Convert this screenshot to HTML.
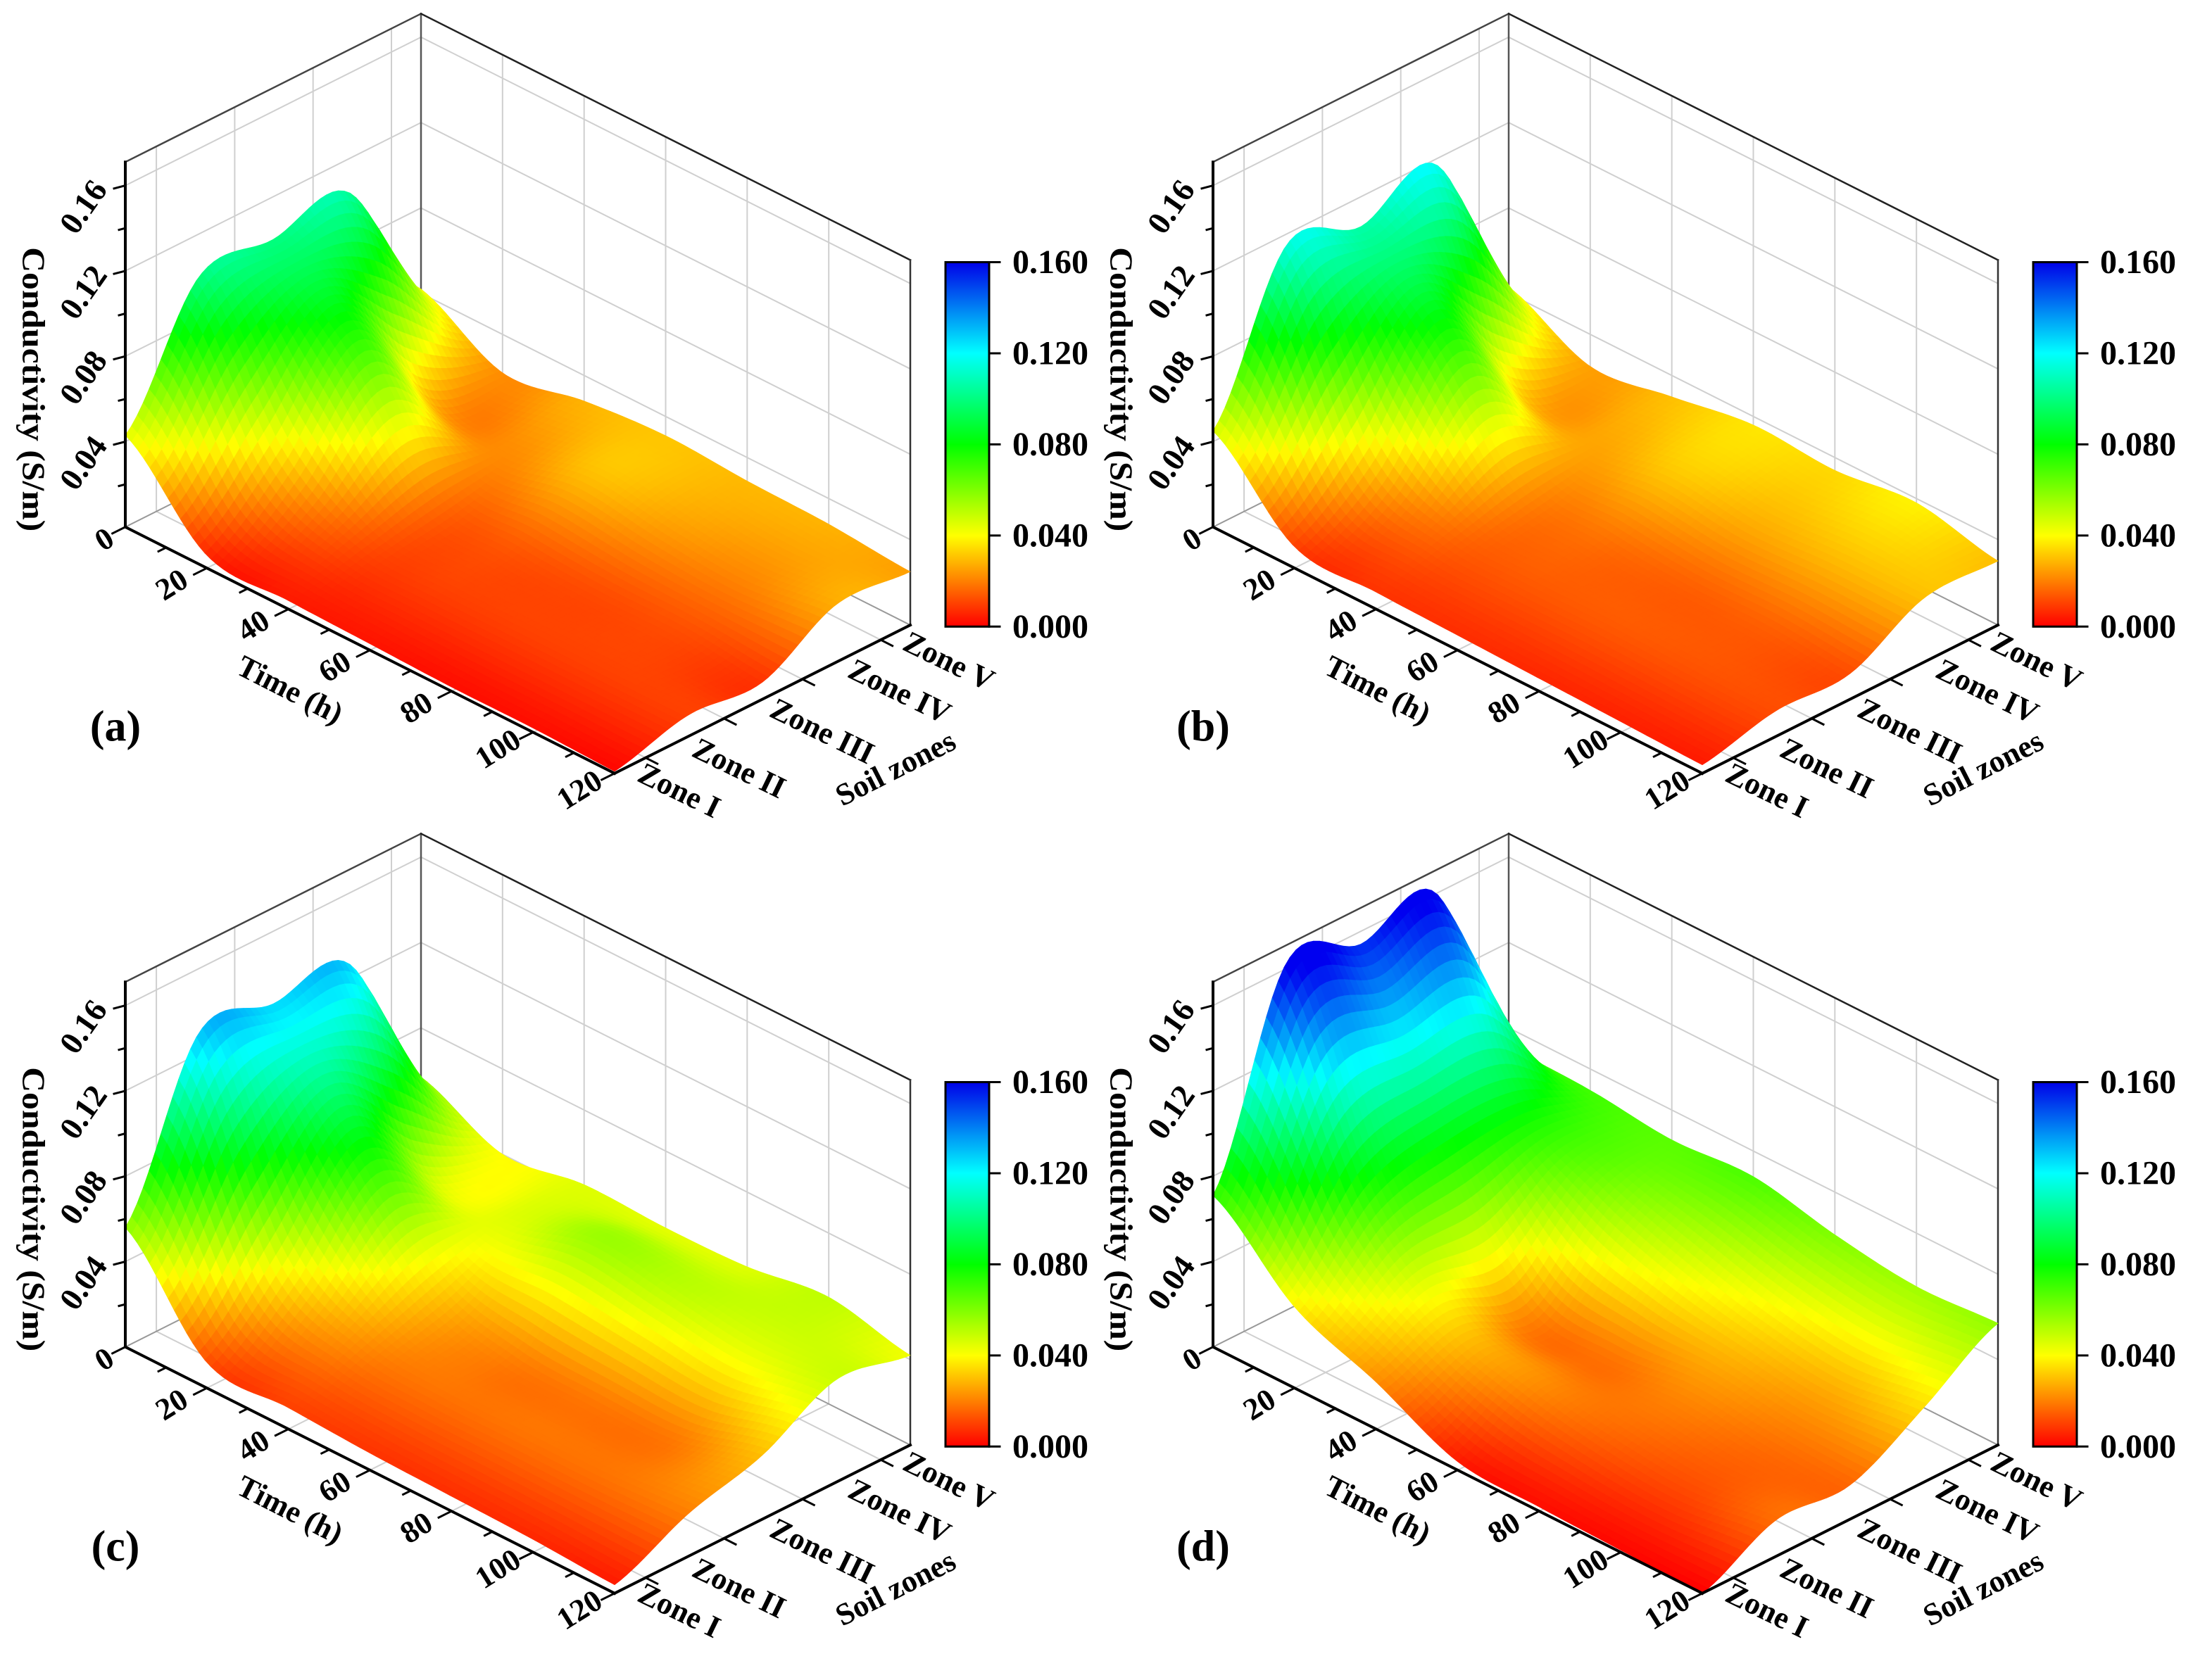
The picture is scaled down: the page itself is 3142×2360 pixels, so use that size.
<!DOCTYPE html>
<html>
<head>
<meta charset="utf-8">
<style>
html,body{margin:0;padding:0;background:#fff;}
svg{display:block;}
text{font-family:"Liberation Serif","DejaVu Serif",serif;font-weight:bold;fill:#000;}
</style>
</head>
<body>
<svg id="fig" xmlns="http://www.w3.org/2000/svg" width="3142" height="2360" viewBox="0 0 3142 2360">
<defs>
<linearGradient id="cmap" x1="0" y1="1" x2="0" y2="0">
<stop offset="0" stop-color="#ff0000"/>
<stop offset="0.25" stop-color="#ffff00"/>
<stop offset="0.5" stop-color="#00ff00"/>
<stop offset="0.75" stop-color="#00ffff"/>
<stop offset="1" stop-color="#0000e8"/>
</linearGradient>
</defs>
<rect x="0" y="0" width="3142" height="2360" fill="#fff"/>
</svg>
<script>
// ---- data (rows = Zone I..V, columns = time 0..120 h) ----
const times = [0, 20, 40, 60, 80, 100, 120];
const zoneNames = ['Zone I', 'Zone II', 'Zone III', 'Zone IV', 'Zone V'];
const timeTicks = ['0', '20', '40', '60', '80', '100', '120'];
const zTicks = [0.04, 0.08, 0.12, 0.16];
const zTickLabels = ['0.04', '0.08', '0.12', '0.16'];
const cbTicks = [0, 0.04, 0.08, 0.12, 0.16];
const cbLabels = ['0.000', '0.040', '0.080', '0.120', '0.160'];
const panelLabels = ['(a)', '(b)', '(c)', '(d)'];
const condA = [
  [0.043, 0.006, 0.004, 0.003, 0.002, 0.002, 0.001],
  [0.100, 0.035, 0.012, 0.010, 0.010, 0.010, 0.010],
  [0.100, 0.075, 0.020, 0.014, 0.012, 0.012, 0.008],
  [0.105, 0.030, 0.022, 0.030, 0.025, 0.022, 0.027],
  [0.042, 0.022, 0.028, 0.031, 0.029, 0.028, 0.025]
];
const condB = [
  [0.045, 0.010, 0.008, 0.007, 0.006, 0.005, 0.004],
  [0.115, 0.035, 0.016, 0.014, 0.014, 0.013, 0.012],
  [0.106, 0.080, 0.025, 0.018, 0.015, 0.015, 0.012],
  [0.118, 0.035, 0.026, 0.032, 0.028, 0.030, 0.030],
  [0.043, 0.025, 0.030, 0.036, 0.034, 0.038, 0.030]
];
const condC = [
  [0.056, 0.012, 0.010, 0.008, 0.007, 0.006, 0.004],
  [0.130, 0.045, 0.022, 0.018, 0.018, 0.018, 0.020],
  [0.126, 0.085, 0.035, 0.022, 0.020, 0.020, 0.030],
  [0.128, 0.050, 0.045, 0.055, 0.050, 0.045, 0.048],
  [0.057, 0.040, 0.045, 0.044, 0.045, 0.050, 0.042]
];
const condD = [
  [0.071, 0.038, 0.022, 0.004, 0.002, 0.001, 0.000],
  [0.163, 0.075, 0.035, 0.022, 0.015, 0.012, 0.017],
  [0.154, 0.085, 0.025, 0.018, 0.022, 0.018, 0.016],
  [0.161, 0.085, 0.060, 0.045, 0.035, 0.030, 0.035],
  [0.071, 0.070, 0.066, 0.068, 0.060, 0.055, 0.057]
];
const allData = [condA, condB, condC, condD];

// ---- geometry ----
const NS = 'http://www.w3.org/2000/svg';
const svg = document.getElementById('fig');
const K = 0.7526;
const ZMAX = 0.171;
const TMAX = 120;
const soilGrid = [0.105, 0.37, 0.635, 0.9];
const offsets = [{dx:0,dy:0},{dx:1545,dy:0},{dx:0,dy:1165},{dx:1545,dy:1165}];

function proj(tf, sf, z){ return [178 + 695*tf + 420*sf, 995 + 465*tf - 280*sf - 4030*z]; }
function real(off, p){ return [p[0] + off.dx, p[1]*K + off.dy]; }
function mk(tag){ return document.createElementNS(NS, tag); }
function line(g, off, a, b, col, w){
  const A = real(off, a), B = real(off, b);
  const l = mk('line');
  l.setAttribute('x1', A[0].toFixed(1)); l.setAttribute('y1', A[1].toFixed(1));
  l.setAttribute('x2', B[0].toFixed(1)); l.setAttribute('y2', B[1].toFixed(1));
  l.setAttribute('stroke', col); l.setAttribute('stroke-width', w);
  l.setAttribute('stroke-linecap', 'square');
  g.appendChild(l);
  return l;
}
function txt(g, off, zx, zy, str, size, ang, anchor){
  const P = real(off, [zx, zy]);
  const t = mk('text');
  t.setAttribute('x', P[0].toFixed(1)); t.setAttribute('y', P[1].toFixed(1));
  t.setAttribute('font-size', size);
  t.setAttribute('text-anchor', anchor || 'middle');
  t.setAttribute('dominant-baseline', 'central');
  if (ang) t.setAttribute('transform', 'rotate(' + ang + ' ' + P[0].toFixed(1) + ' ' + P[1].toFixed(1) + ')');
  t.textContent = str;
  g.appendChild(t);
  return t;
}
function cr(p0,p1,p2,p3,u){ return 0.5*((2*p1)+(-p0+p2)*u+(2*p0-5*p1+4*p2-p3)*u*u+(-p0+3*p1-3*p2+p3)*u*u*u); }
function sample(arr, x){
  const n = arr.length;
  let i = Math.min(Math.floor(x), n-2); if (i < 0) i = 0;
  const u = x - i;
  return cr(arr[Math.max(i-1,0)], arr[i], arr[i+1], arr[Math.min(i+2,n-1)], u);
}
function value(grid, tf, sf){
  const col = grid.map(function(row){ return sample(row, tf*(times.length-1)); });
  return Math.max(0, sample(col, sf*(grid.length-1)));
}
const cstops = [[0,[255,0,0]],[0.04,[255,255,0]],[0.08,[0,255,0]],[0.12,[0,255,255]],[0.16,[0,0,240]]];
function cmap(v){
  if (v <= 0) return 'rgb(255,0,0)';
  for (let i = 1; i < cstops.length; i++){
    if (v <= cstops[i][0]){
      const a = cstops[i-1], b = cstops[i], u = (v - a[0])/(b[0]-a[0]);
      return 'rgb(' + [0,1,2].map(function(k){ return Math.round(a[1][k] + (b[1][k]-a[1][k])*u); }).join(',') + ')';
    }
  }
  return 'rgb(0,0,240)';
}

allData.forEach(function(grid, pi){
  const off = offsets[pi];
  const g = mk('g');
  
  
  svg.appendChild(g);

  const grids = mk('g');
  
  
  g.appendChild(grids);
  const GC = '#cfcfcf';
  soilGrid.forEach(function(s){
    line(grids, off, proj(0,s,0), proj(0,s,ZMAX), GC, 2);
    line(grids, off, proj(0,s,0), proj(1,s,0), GC, 2);
  });
  for (let k = 1; k < times.length-1; k++){
    const tf = times[k]/TMAX;
    line(grids, off, proj(tf,1,0), proj(tf,1,ZMAX), GC, 2);
    line(grids, off, proj(tf,0,0), proj(tf,1,0), GC, 2);
  }
  zTicks.forEach(function(z){
    line(grids, off, proj(0,0,z), proj(0,1,z), GC, 2);
    line(grids, off, proj(0,1,z), proj(1,1,z), GC, 2);
  });
  line(grids, off, proj(0,0,0), proj(0,1,0), '#999', 2);
  line(grids, off, proj(0,1,0), proj(1,1,0), '#999', 2);
  line(grids, off, proj(0,1,0), proj(0,1,ZMAX), '#555', 2.5);
  line(grids, off, proj(0,0,ZMAX), proj(0,1,ZMAX), '#444', 2.5);
  line(grids, off, proj(0,1,ZMAX), proj(1,1,ZMAX), '#222', 2.5);
  line(grids, off, proj(1,1,0), proj(1,1,ZMAX), '#333', 2.5);

  const surf = mk('g');
  
  
  g.appendChild(surf);
  const nt = 80, ns = 50;
  const V = [];
  for (let i = 0; i <= nt; i++){
    V.push([]);
    for (let j = 0; j <= ns; j++) V[i].push(value(grid, i/nt, j/ns));
  }
  const quads = [];
  for (let i = 0; i < nt; i++) for (let j = 0; j < ns; j++){
    quads.push([i, j, 465*(i+0.5)/nt - 280*(j+0.5)/ns]);
  }
  quads.sort(function(a,b){ return a[2]-b[2]; });
  quads.forEach(function(q){
    const i = q[0], j = q[1];
    const pts = [[i,j],[i+1,j],[i+1,j+1],[i,j+1]].map(function(c){
      return real(off, proj(c[0]/nt, c[1]/ns, V[c[0]][c[1]]));
    });
    const avg = (V[i][j]+V[i+1][j]+V[i+1][j+1]+V[i][j+1])/4;
    const col = cmap(avg);
    const p = mk('polygon');
    p.setAttribute('points', pts.map(function(a){ return a[0].toFixed(1)+','+a[1].toFixed(1); }).join(' '));
    p.setAttribute('fill', col);
    p.setAttribute('stroke', col);
    p.setAttribute('stroke-width', '0.7');
    p.setAttribute('stroke-linejoin', 'round');
    surf.appendChild(p);
  });

  const ax = mk('g');
  
  
  g.appendChild(ax);
  const zAxis = line(ax, off, proj(0,0,0), proj(0,0,ZMAX), '#000', 4);
  
  
  const tAxis = line(ax, off, proj(0,0,0), proj(1,0,0), '#000', 4);
  
  
  const sAxis = line(ax, off, proj(1,0,0), proj(1,1,0), '#000', 4);
  
  
  for (let t = 0; t <= TMAX; t += 10){
    const p = proj(t/TMAX, 0, 0);
    const L = (t % 20 === 0) ? 22 : 13;
    line(ax, off, p, [p[0]-0.83*L, p[1]+0.55*L], '#000', 3);
  }
  soilGrid.forEach(function(s){
    const p = proj(1, s, 0);
    line(ax, off, p, [p[0]+0.83*20, p[1]+0.56*20], '#000', 3);
  });
  for (let z = 0.02; z < ZMAX; z += 0.02){
    const p = proj(0, 0, z);
    const major = Math.abs(z/0.04 - Math.round(z/0.04)) < 1e-6;
    const L = major ? 16 : 9;
    line(ax, off, p, [p[0]-L, p[1]+0.35*L], '#000', 3);
  }

  const lab = mk('g');
  
  
  g.appendChild(lab);
  timeTicks.forEach(function(s, k){
    const p = proj(times[k]/TMAX, 0, 0);
    const t = (k === 0) ? txt(lab, off, 148, 1018, s, 44, -32) : txt(lab, off, p[0]-50, p[1]+31, s, 44, -32);
    
    
  });
  zTicks.forEach(function(z, k){
    const p = proj(0, 0, z);
    const t = txt(lab, off, p[0]-60, p[1]+40, zTickLabels[k], 46, -55);
    
    
  });
  const zoneCenters = [[965,1492],[1050,1450],[1168,1380],[1278,1305],[1348,1248]];
  zoneNames.forEach(function(s, k){
    const t = txt(lab, off, zoneCenters[k][0], zoneCenters[k][1], s, 44, 26);
    
    
  });
  const tt = txt(lab, off, 412, 1302, 'Time (h)', 44, 27);
  
  
  const st = txt(lab, off, 1272, 1450, 'Soil zones', 44, -27);
  
  
  const ct = txt(lab, off, 48, 735, 'Conductivity (S/m)', 46, 90);
  ct.setAttribute('textLength', '404');
  ct.setAttribute('lengthAdjust', 'spacingAndGlyphs');
  
  
  const pl = txt(lab, off, 164, 1372, panelLabels[pi], 62, 0);
  
  

  const cb = mk('g');
  
  
  g.appendChild(cb);
  const top = real(off, [1343, 495]), bot = real(off, [1405, 1183]);
  const r = mk('rect');
  r.setAttribute('x', top[0]); r.setAttribute('y', top[1].toFixed(1));
  r.setAttribute('width', bot[0]-top[0]); r.setAttribute('height', (bot[1]-top[1]).toFixed(1));
  r.setAttribute('fill', 'url(#cmap)'); r.setAttribute('stroke', '#000'); r.setAttribute('stroke-width', '3');
  
  
  cb.appendChild(r);
  cbTicks.forEach(function(v, k){
    const zy = 1183 - (1183-495)*v/0.16;
    line(cb, off, [1405, zy], [1420, zy], '#000', 3);
    const t = txt(cb, off, 1438, zy, cbLabels[k], 48, 0, 'start');
    
    
  });
});
</script>
</body>
</html>
